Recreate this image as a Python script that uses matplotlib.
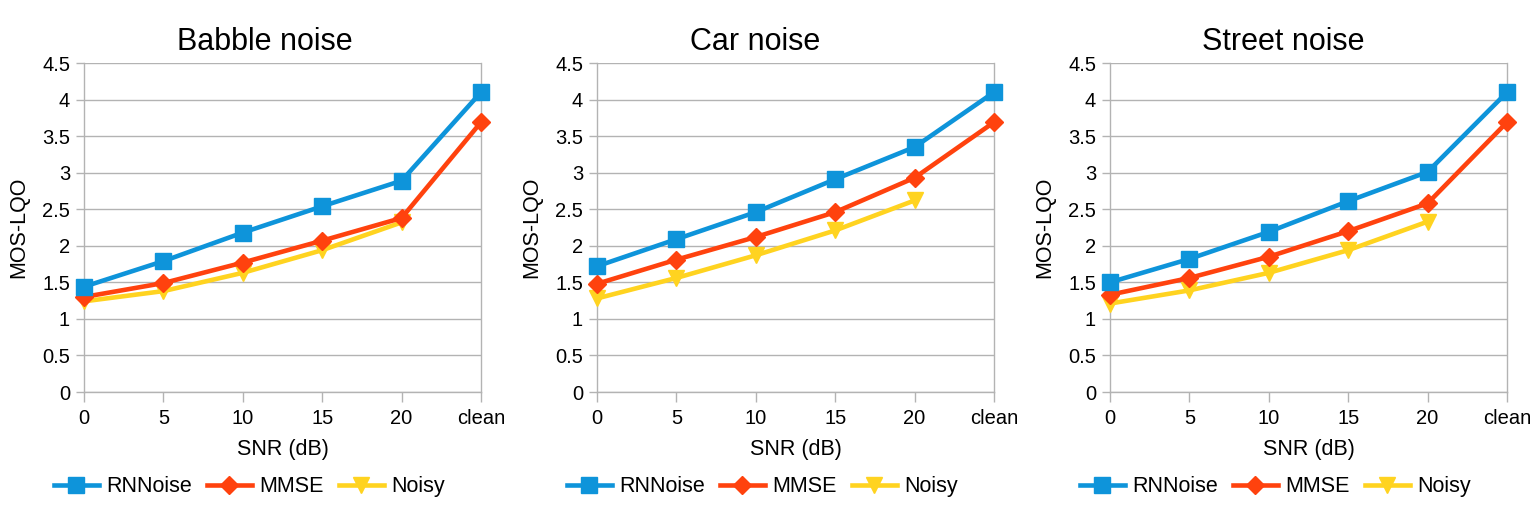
import matplotlib
matplotlib.use("Agg")
import matplotlib.pyplot as plt

plt.rcParams['font.family'] = ['Liberation Sans', 'DejaVu Sans']

categories = ["0", "5", "10", "15", "20", "clean"]
titles = ["Babble noise", "Car noise", "Street noise"]
series_names = ["RNNoise", "MMSE", "Noisy"]

babble_rnnoise = [1.44, 1.79, 2.18, 2.54, 2.89, 4.10]
babble_mmse = [1.30, 1.49, 1.77, 2.07, 2.38, 3.69]
babble_noisy = [1.24, 1.38, 1.63, 1.94, 2.32]

car_rnnoise = [1.72, 2.09, 2.46, 2.91, 3.35, 4.10]
car_mmse = [1.48, 1.81, 2.12, 2.46, 2.93, 3.69]
car_noisy = [1.28, 1.56, 1.87, 2.21, 2.62]

street_rnnoise = [1.50, 1.82, 2.19, 2.61, 3.01, 4.10]
street_mmse = [1.33, 1.56, 1.85, 2.20, 2.58, 3.69]
street_noisy = [1.21, 1.39, 1.63, 1.94, 2.33]

panels = [
    (babble_rnnoise, babble_mmse, babble_noisy),
    (car_rnnoise, car_mmse, car_noisy),
    (street_rnnoise, street_mmse, street_noisy),
]

colors = ["#0e94da", "#ff420e", "#ffd320"]
markers = ["s", "D", "v"]
msizes = [11, 9, 12]
yticks = [0, 0.5, 1, 1.5, 2, 2.5, 3, 3.5, 4, 4.5]
ytick_labels = ["0", "0.5", "1", "1.5", "2", "2.5", "3", "3.5", "4", "4.5"]

fig = plt.figure(figsize=(15.4, 5.09), dpi=100)
lefts = [84, 597, 1110]
title_x = [0.456, 0.398, 0.436]
W, H = 1540, 509
for i, (title, data) in enumerate(zip(titles, panels)):
    ax = fig.add_axes([lefts[i] / W, (H - 392) / H, 397 / W, 329 / H])
    handles = []
    for j, vals in enumerate(data):
        x = list(range(len(vals)))
        h, = ax.plot(x, vals, color=colors[j], marker=markers[j], ms=msizes[j],
                     lw=3.3, label=series_names[j], zorder=5 - j,
                     clip_on=False)
        handles.append(h)
    ax.set_xlim(0, 5)
    ax.set_ylim(0, 4.5)
    ax.set_xticks(range(len(categories)))
    ax.set_xticklabels(categories)
    ax.set_yticks(yticks)
    ax.set_yticklabels(ytick_labels)
    ax.grid(axis='y', color='#b3b3b3', lw=1)
    ax.set_axisbelow(True)
    for s in ['left', 'bottom', 'right']:
        ax.spines[s].set_color('#b3b3b3')
        ax.spines[s].set_linewidth(1)
    ax.spines['top'].set_visible(False)
    ax.tick_params(axis='both', colors='#b3b3b3', labelcolor='#000000',
                   labelsize=14.5, width=1)
    ax.tick_params(axis='x', length=7, pad=5)
    ax.tick_params(axis='y', length=6, pad=4)
    ax.set_title(title, fontsize=22, pad=9, x=title_x[i])
    ax.set_xlabel("SNR (dB)", fontsize=15.5, va='center')
    ax.set_ylabel("MOS-LQO", fontsize=15.5, va='center')
    ax.xaxis.set_label_coords(0.5, (392 - 449) / 329)
    ax.yaxis.set_label_coords((19 - 84) / 397, 0.5)
    ax.legend(handles=handles, loc='center', bbox_to_anchor=(0.416, -0.288),
              ncol=3, frameon=False, fontsize=15.5, handlelength=2.1,
              columnspacing=0.7, handletextpad=0.33, borderaxespad=0,
              borderpad=0)

fig.savefig("out.png", dpi=100)
